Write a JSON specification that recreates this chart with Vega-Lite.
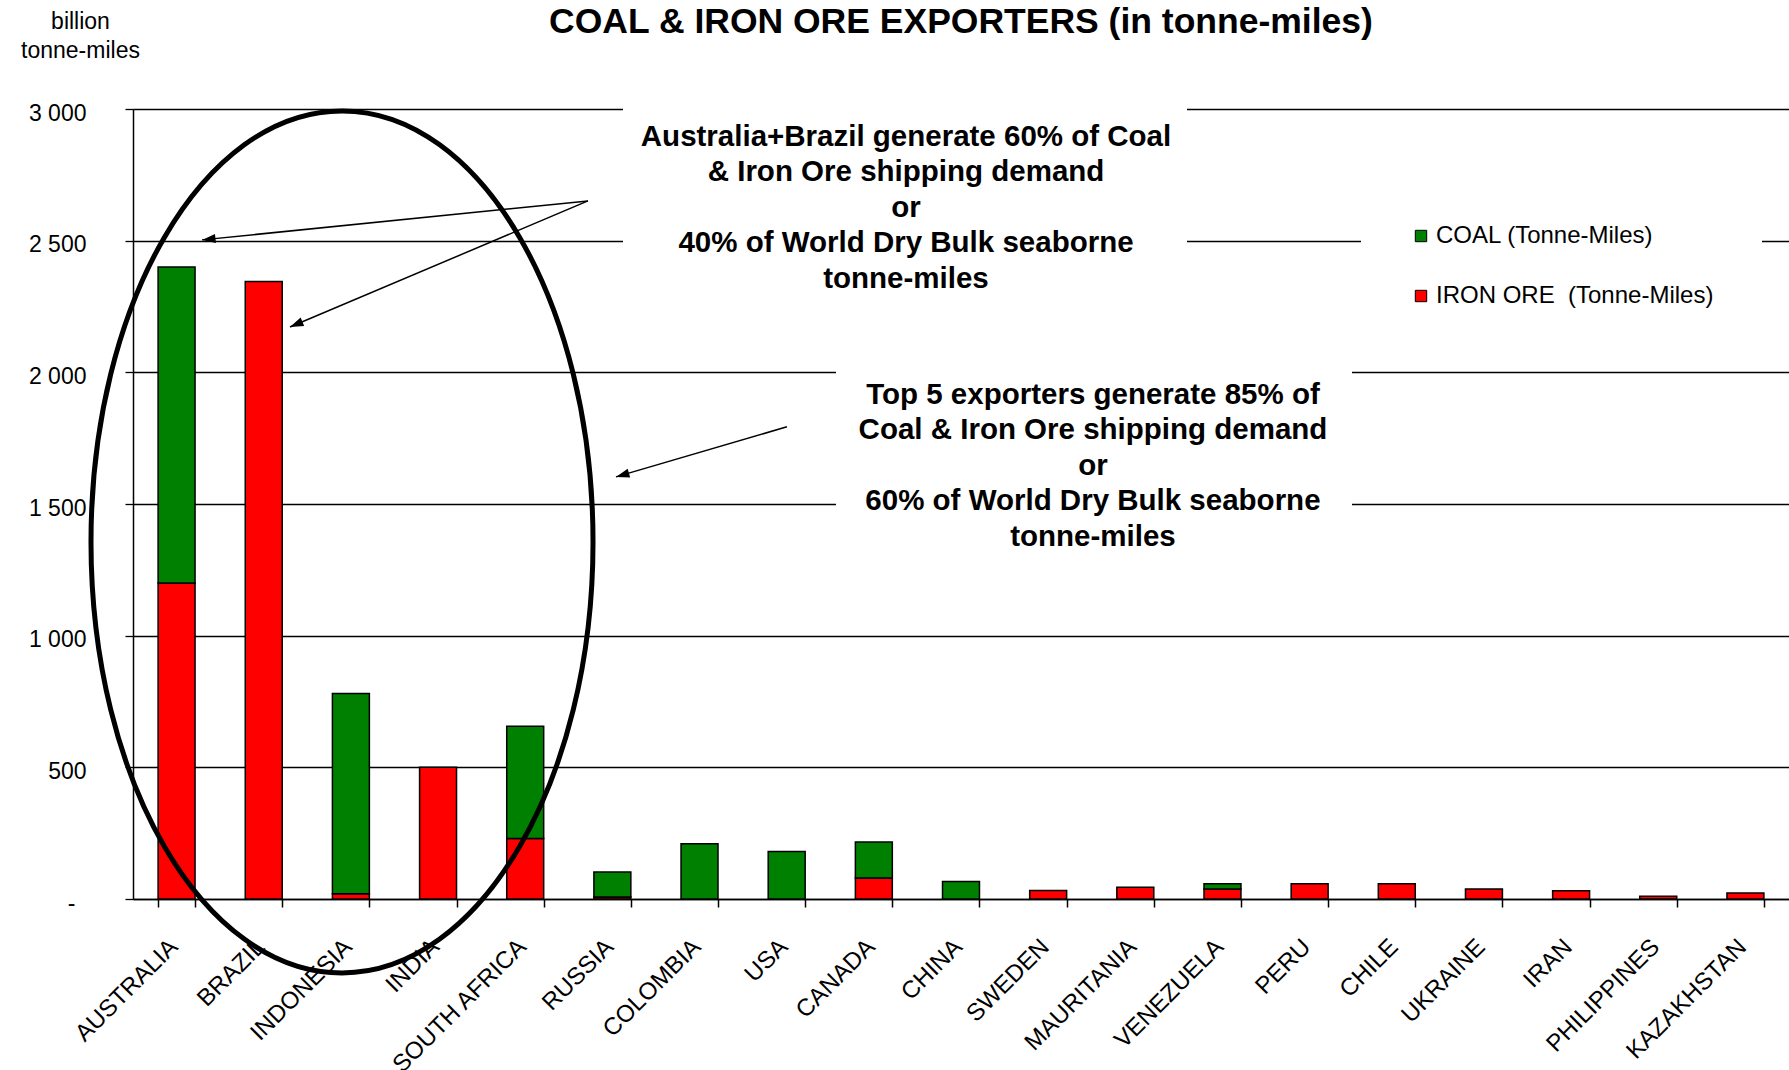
{
  "$schema": "https://vega.github.io/schema/vega-lite/v6.json",
  "width": 1656,
  "height": 790,
  "autosize": {"type": "none"},
  "padding": {"left": 133, "top": 109, "right": 0, "bottom": 171},
  "background": "white",
  "title": {
    "text": "COAL & IRON ORE EXPORTERS (in tonne-miles)",
    "fontSize": 35.5,
    "fontWeight": "bold",
    "font": "Liberation Sans",
    "color": "black",
    "anchor": "middle",
    "frame": "group",
    "offset": 0,
    "baseline": "alphabetic",
    "dy": 58
  },
  "config": {
    "font": "Liberation Sans",
    "view": {"stroke": null},
    "axis": {"labelColor": "black", "domainColor": "black", "tickColor": "black", "titleColor": "black"}
  },
  "datasets": {
    "exports": [
      {"country": "AUSTRALIA", "series": "IRON ORE\u00a0 (Tonne-Miles)", "value": 1200},
      {"country": "AUSTRALIA", "series": "COAL (Tonne-Miles)", "value": 1200},
      {"country": "BRAZIL", "series": "IRON ORE\u00a0 (Tonne-Miles)", "value": 2345},
      {"country": "INDONESIA", "series": "IRON ORE\u00a0 (Tonne-Miles)", "value": 20},
      {"country": "INDONESIA", "series": "COAL (Tonne-Miles)", "value": 760},
      {"country": "INDIA", "series": "IRON ORE\u00a0 (Tonne-Miles)", "value": 500},
      {"country": "SOUTH AFRICA", "series": "IRON ORE\u00a0 (Tonne-Miles)", "value": 230},
      {"country": "SOUTH AFRICA", "series": "COAL (Tonne-Miles)", "value": 426},
      {"country": "RUSSIA", "series": "IRON ORE\u00a0 (Tonne-Miles)", "value": 8},
      {"country": "RUSSIA", "series": "COAL (Tonne-Miles)", "value": 95},
      {"country": "COLOMBIA", "series": "COAL (Tonne-Miles)", "value": 210},
      {"country": "USA", "series": "COAL (Tonne-Miles)", "value": 180},
      {"country": "CANADA", "series": "IRON ORE\u00a0 (Tonne-Miles)", "value": 80},
      {"country": "CANADA", "series": "COAL (Tonne-Miles)", "value": 136},
      {"country": "CHINA", "series": "COAL (Tonne-Miles)", "value": 66},
      {"country": "SWEDEN", "series": "IRON ORE\u00a0 (Tonne-Miles)", "value": 32},
      {"country": "MAURITANIA", "series": "IRON ORE\u00a0 (Tonne-Miles)", "value": 45},
      {"country": "VENEZUELA", "series": "IRON ORE\u00a0 (Tonne-Miles)", "value": 38},
      {"country": "VENEZUELA", "series": "COAL (Tonne-Miles)", "value": 20},
      {"country": "PERU", "series": "IRON ORE\u00a0 (Tonne-Miles)", "value": 58},
      {"country": "CHILE", "series": "IRON ORE\u00a0 (Tonne-Miles)", "value": 58},
      {"country": "UKRAINE", "series": "IRON ORE\u00a0 (Tonne-Miles)", "value": 38},
      {"country": "IRAN", "series": "IRON ORE\u00a0 (Tonne-Miles)", "value": 31},
      {"country": "PHILIPPINES", "series": "IRON ORE\u00a0 (Tonne-Miles)", "value": 10},
      {"country": "KAZAKHSTAN", "series": "IRON ORE\u00a0 (Tonne-Miles)", "value": 23}
    ],
    "boxes": [
      {"bx1": 5.622, "bx2": 12.093, "by1": 2275, "by2": 3034},
      {"bx1": 8.066, "bx2": 13.986, "by1": 1306, "by2": 2047}
    ],
    "ring": [
      {"cx": 2.398, "cy": 1356}
    ],
    "arrows": [
      {"id": "a1", "x1": 5.22, "y1": 2651, "x2": 0.792, "y2": 2503},
      {"id": "a2", "x1": 5.22, "y1": 2651, "x2": 1.801, "y2": 2172},
      {"id": "a3", "x1": 7.503, "y1": 1793, "x2": 5.541, "y2": 1603}
    ],
    "notes": [
      {"note": "Australia+Brazil  generate 60% of Coal\n& Iron Ore shipping demand\nor\n40% of World Dry Bulk seaborne\ntonne-miles", "tx": 8.869, "ty": 2894},
      {"note": "Top 5 exporters generate 85% of\nCoal & Iron Ore shipping demand\nor\n60% of World Dry Bulk seaborne\ntonne-miles", "tx": 11.014, "ty": 1914}
    ]
  },
  "resolve": {"scale": {"x": "independent"}},
  "layer": [
    {
      "data": {"name": "exports"},
      "mark": {"type": "bar", "stroke": "black", "strokeWidth": 1.5},
      "encoding": {
        "x": {
          "field": "country",
          "type": "nominal",
          "sort": null,
          "scale": {"paddingInner": 0.576, "paddingOuter": 0.288},
          "axis": {
            "title": null,
            "labelAngle": -45,
            "labelAlign": "right",
            "labelBaseline": "middle",
            "labelFontSize": 24,
            "labelPadding": 36,
            "labelOffset": -3,
            "labelOverlap": false,
            "labelBound": false,
            "labelLimit": 0,
            "tickBand": "extent",
            "tickSize": 8,
            "tickWidth": 1.5,
            "domainWidth": 1.5,
            "grid": false
          }
        },
        "y": {
          "field": "value",
          "type": "quantitative",
          "stack": "zero",
          "scale": {"domain": [0, 3000], "nice": false},
          "axis": {
            "title": ["billion", "tonne-miles"],
            "titleAngle": 0,
            "titleAlign": "center",
            "titleBaseline": "alphabetic",
            "titleX": -53,
            "titleY": -81,
            "titleFontSize": 23,
            "titleFontWeight": "normal",
            "titleLineHeight": 29,
            "values": [0, 500, 1000, 1500, 2000, 2500, 3000],
            "labelExpr": "datum.value == 0 ? '-' : replace(format(datum.value, ','), ',', ' ')",
            "labelFontSize": 23,
            "labelPadding": {"condition": {"test": "datum.value == 0", "value": 50}, "value": 39},
            "labelOffset": 4,
            "tickSize": 8,
            "tickWidth": 1.3,
            "domainWidth": 1.5,
            "grid": true,
            "gridColor": "black",
            "gridWidth": 1.3,
            "gridOpacity": 1
          }
        },
        "color": {
          "field": "series",
          "type": "nominal",
          "scale": {
            "domain": ["COAL (Tonne-Miles)", "IRON ORE\u00a0 (Tonne-Miles)"],
            "range": ["#008000", "#FF0000"]
          },
          "legend": {
            "title": null,
            "orient": "none",
            "legendX": 1228,
            "legendY": 67,
            "fillColor": "white",
            "padding": 48,
            "symbolType": "square",
            "symbolSize": 130,
            "symbolStrokeColor": "black",
            "symbolStrokeWidth": 1,
            "symbolOpacity": 1,
            "labelFontSize": 24,
            "labelColor": "black",
            "labelOffset": 3,
            "labelLimit": 0,
            "rowPadding": 36
          }
        },
        "order": {"field": "series", "sort": "descending"}
      }
    },
    {
      "data": {"name": "boxes"},
      "mark": {"type": "rect", "fill": "white", "strokeWidth": 0},
      "encoding": {
        "x": {"field": "bx1", "type": "quantitative", "scale": {"domain": [0, 19], "nice": false, "zero": false}, "axis": null},
        "x2": {"field": "bx2"},
        "y": {"field": "by1", "type": "quantitative", "scale": {"domain": [0, 3000], "nice": false}},
        "y2": {"field": "by2"}
      }
    },
    {
      "data": {"name": "ring"},
      "mark": {
        "type": "point",
        "shape": "M0.5824,0C0.5824,0.5523,0.3217,1,0,1C-0.3217,1,-0.5824,0.5523,-0.5824,0C-0.5824,-0.5523,-0.3217,-1,0,-1C0.3217,-1,0.5824,-0.5523,0.5824,0Z",
        "size": 743044,
        "filled": false,
        "stroke": "black",
        "strokeWidth": 5,
        "opacity": 1
      },
      "encoding": {
        "x": {"field": "cx", "type": "quantitative", "scale": {"domain": [0, 19], "nice": false, "zero": false}, "axis": null},
        "y": {"field": "cy", "type": "quantitative", "scale": {"domain": [0, 3000], "nice": false}}
      }
    },
    {
      "data": {"name": "arrows"},
      "mark": {"type": "rule", "stroke": "black", "strokeWidth": 1.5},
      "encoding": {
        "x": {"field": "x1", "type": "quantitative", "scale": {"domain": [0, 19], "nice": false, "zero": false}, "axis": null},
        "y": {"field": "y1", "type": "quantitative", "scale": {"domain": [0, 3000], "nice": false}},
        "x2": {"field": "x2"},
        "y2": {"field": "y2"}
      }
    },
    {
      "data": {"name": "arrows"},
      "transform": [{"filter": "datum.id == 'a1'"}],
      "mark": {"type": "point", "shape": "M0,0L-0.5,1.5L0.5,1.5Z", "size": 324, "filled": true, "fill": "black", "strokeWidth": 0, "opacity": 1, "angle": 264},
      "encoding": {
        "x": {"field": "x2", "type": "quantitative", "scale": {"domain": [0, 19], "nice": false, "zero": false}, "axis": null},
        "y": {"field": "y2", "type": "quantitative", "scale": {"domain": [0, 3000], "nice": false}}
      }
    },
    {
      "data": {"name": "arrows"},
      "transform": [{"filter": "datum.id == 'a2'"}],
      "mark": {"type": "point", "shape": "M0,0L-0.5,1.5L0.5,1.5Z", "size": 324, "filled": true, "fill": "black", "strokeWidth": 0, "opacity": 1, "angle": 247},
      "encoding": {
        "x": {"field": "x2", "type": "quantitative", "scale": {"domain": [0, 19], "nice": false, "zero": false}, "axis": null},
        "y": {"field": "y2", "type": "quantitative", "scale": {"domain": [0, 3000], "nice": false}}
      }
    },
    {
      "data": {"name": "arrows"},
      "transform": [{"filter": "datum.id == 'a3'"}],
      "mark": {"type": "point", "shape": "M0,0L-0.5,1.5L0.5,1.5Z", "size": 324, "filled": true, "fill": "black", "strokeWidth": 0, "opacity": 1, "angle": 254},
      "encoding": {
        "x": {"field": "x2", "type": "quantitative", "scale": {"domain": [0, 19], "nice": false, "zero": false}, "axis": null},
        "y": {"field": "y2", "type": "quantitative", "scale": {"domain": [0, 3000], "nice": false}}
      }
    },
    {
      "data": {"name": "notes"},
      "mark": {
        "type": "text",
        "font": "Liberation Sans",
        "fontSize": 29.5,
        "fontWeight": "bold",
        "color": "black",
        "align": "center",
        "baseline": "middle",
        "lineBreak": "\n",
        "lineHeight": 35.5
      },
      "encoding": {
        "x": {"field": "tx", "type": "quantitative", "scale": {"domain": [0, 19], "nice": false, "zero": false}, "axis": null},
        "y": {"field": "ty", "type": "quantitative", "scale": {"domain": [0, 3000], "nice": false}},
        "text": {"field": "note"}
      }
    }
  ]
}
